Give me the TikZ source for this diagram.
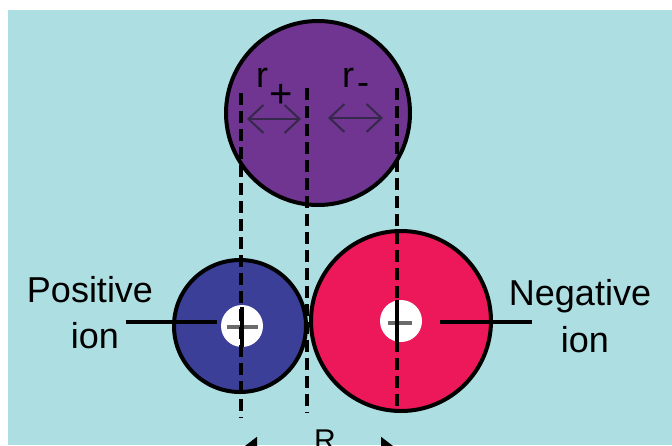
\documentclass[tikz,border=0pt]{standalone}
\usepackage{fontspec}
\setmainfont{Liberation Sans}
\usetikzlibrary{arrows.meta}
\definecolor{bgteal}{HTML}{ADDFE2}
\definecolor{purpleball}{HTML}{6F3590}
\definecolor{blueball}{HTML}{3B3F98}
\definecolor{redball}{HTML}{EC1859}
\definecolor{signgray}{HTML}{6A6A6A}
\definecolor{arrowdark}{HTML}{35284A}
\begin{document}
\begin{tikzpicture}[x=1pt,y=-1pt,
  ball/.style={circle,draw=black,line width=4pt,inner sep=0pt,outer sep=0pt},
  hole/.style={circle,fill=white,inner sep=0pt,outer sep=0pt,minimum size=42pt},
  dashline/.style={line width=4pt,dash pattern=on 12pt off 6pt},
  leader/.style={line width=4pt},
  lbl/.style={font=\fontsize{36}{40}\selectfont,inner sep=0pt},
  rarrow/.style={draw=arrowdark,line width=2.2pt,{Straight Barb[length=15pt,width=28pt,line width=2pt]}-{Straight Barb[length=15pt,width=28pt,line width=2pt]}},
  signbar/.style={line width=4pt}]
\useasboundingbox (0,0) rectangle (672,445);
\clip (0,0) rectangle (672,445);
\fill[white] (0,0) rectangle (672,445);
\fill[bgteal] (8,10) rectangle (672,445);
% balls
\node[ball,fill=purpleball,minimum size=184pt] (top) at (318,113) {};
\node[ball,fill=blueball,minimum size=132pt] (pos) at (240,326) {};
\node[ball,fill=redball,minimum size=180pt] (neg) at (401,321) {};
\node[hole] (posc) at (242,326) {};
\node[hole] (negc) at (401,321) {};
% signs
\draw[signbar,draw=signgray] (posc.west) ++(6,1) coordinate (p1) -- ++(31,0) coordinate (p2);
\draw[signbar,draw=signgray] (negc.west) ++(8,2) coordinate (m1) -- ++(24,0) coordinate (m2);
% leader lines
\coordinate (pl) at (126,322);
\coordinate (pr) at (217,322);
\coordinate (nl) at (440,322);
\coordinate (nr) at (532,322);
\draw[leader] (pl) -- (pr);
\draw[leader] (nl) -- (nr);
% dashed lines
\coordinate (d1a) at (241,93);  \coordinate (d1b) at (241,418);
\coordinate (d2a) at (307,88);  \coordinate (d2b) at (307,413);
\coordinate (d3a) at (397,88);  \coordinate (d3b) at (397,413);
\draw[dashline] (d1a) -- (d1b);
\draw[dashline] (d2a) -- (d2b);
\draw[dashline] (d3a) -- (d3b);
\draw[signbar] (242,307) coordinate (p3) -- (242,347) coordinate (p4);
\draw[signbar] (397,300) coordinate (v1) -- (397,343) coordinate (v2);
% radius arrows
\coordinate (ra1) at (247,119); \coordinate (ra2) at (301,119);
\coordinate (rb1) at (328,118); \coordinate (rb2) at (383,118);
\draw[rarrow] (ra1) -- (ra2);
\draw[rarrow] (rb1) -- (rb2);
% labels
\node[lbl,anchor=base] (rp) at (262,87) {r};
\node[lbl,anchor=base,font=\fontsize{40}{44}\selectfont] (rps) at (281,107) {+};
\node[lbl,anchor=base] (rm) at (348,87) {r};
\node[lbl,anchor=base] (rms) at (363,94) {-};
\node[lbl,anchor=base] (posl) at (90,302) {Positive};
\node[lbl,anchor=base] (posl2) at (95,348) {ion};
\node[lbl,anchor=base] (negl) at (580,305) {Negative};
\node[lbl,anchor=base] (negl2) at (585,352) {ion};
% R dimension
\coordinate (Ra) at (241,449);
\coordinate (Rb) at (397,449);
\draw[line width=2pt,{Triangle[length=16pt,width=24pt]}-{Triangle[length=16pt,width=24pt]}] (Ra) -- (Rb);
\node[anchor=base,inner sep=0pt,font=\fontsize{30}{34}\selectfont] (Rl) at (325,450) {R};
\end{tikzpicture}
\end{document}
